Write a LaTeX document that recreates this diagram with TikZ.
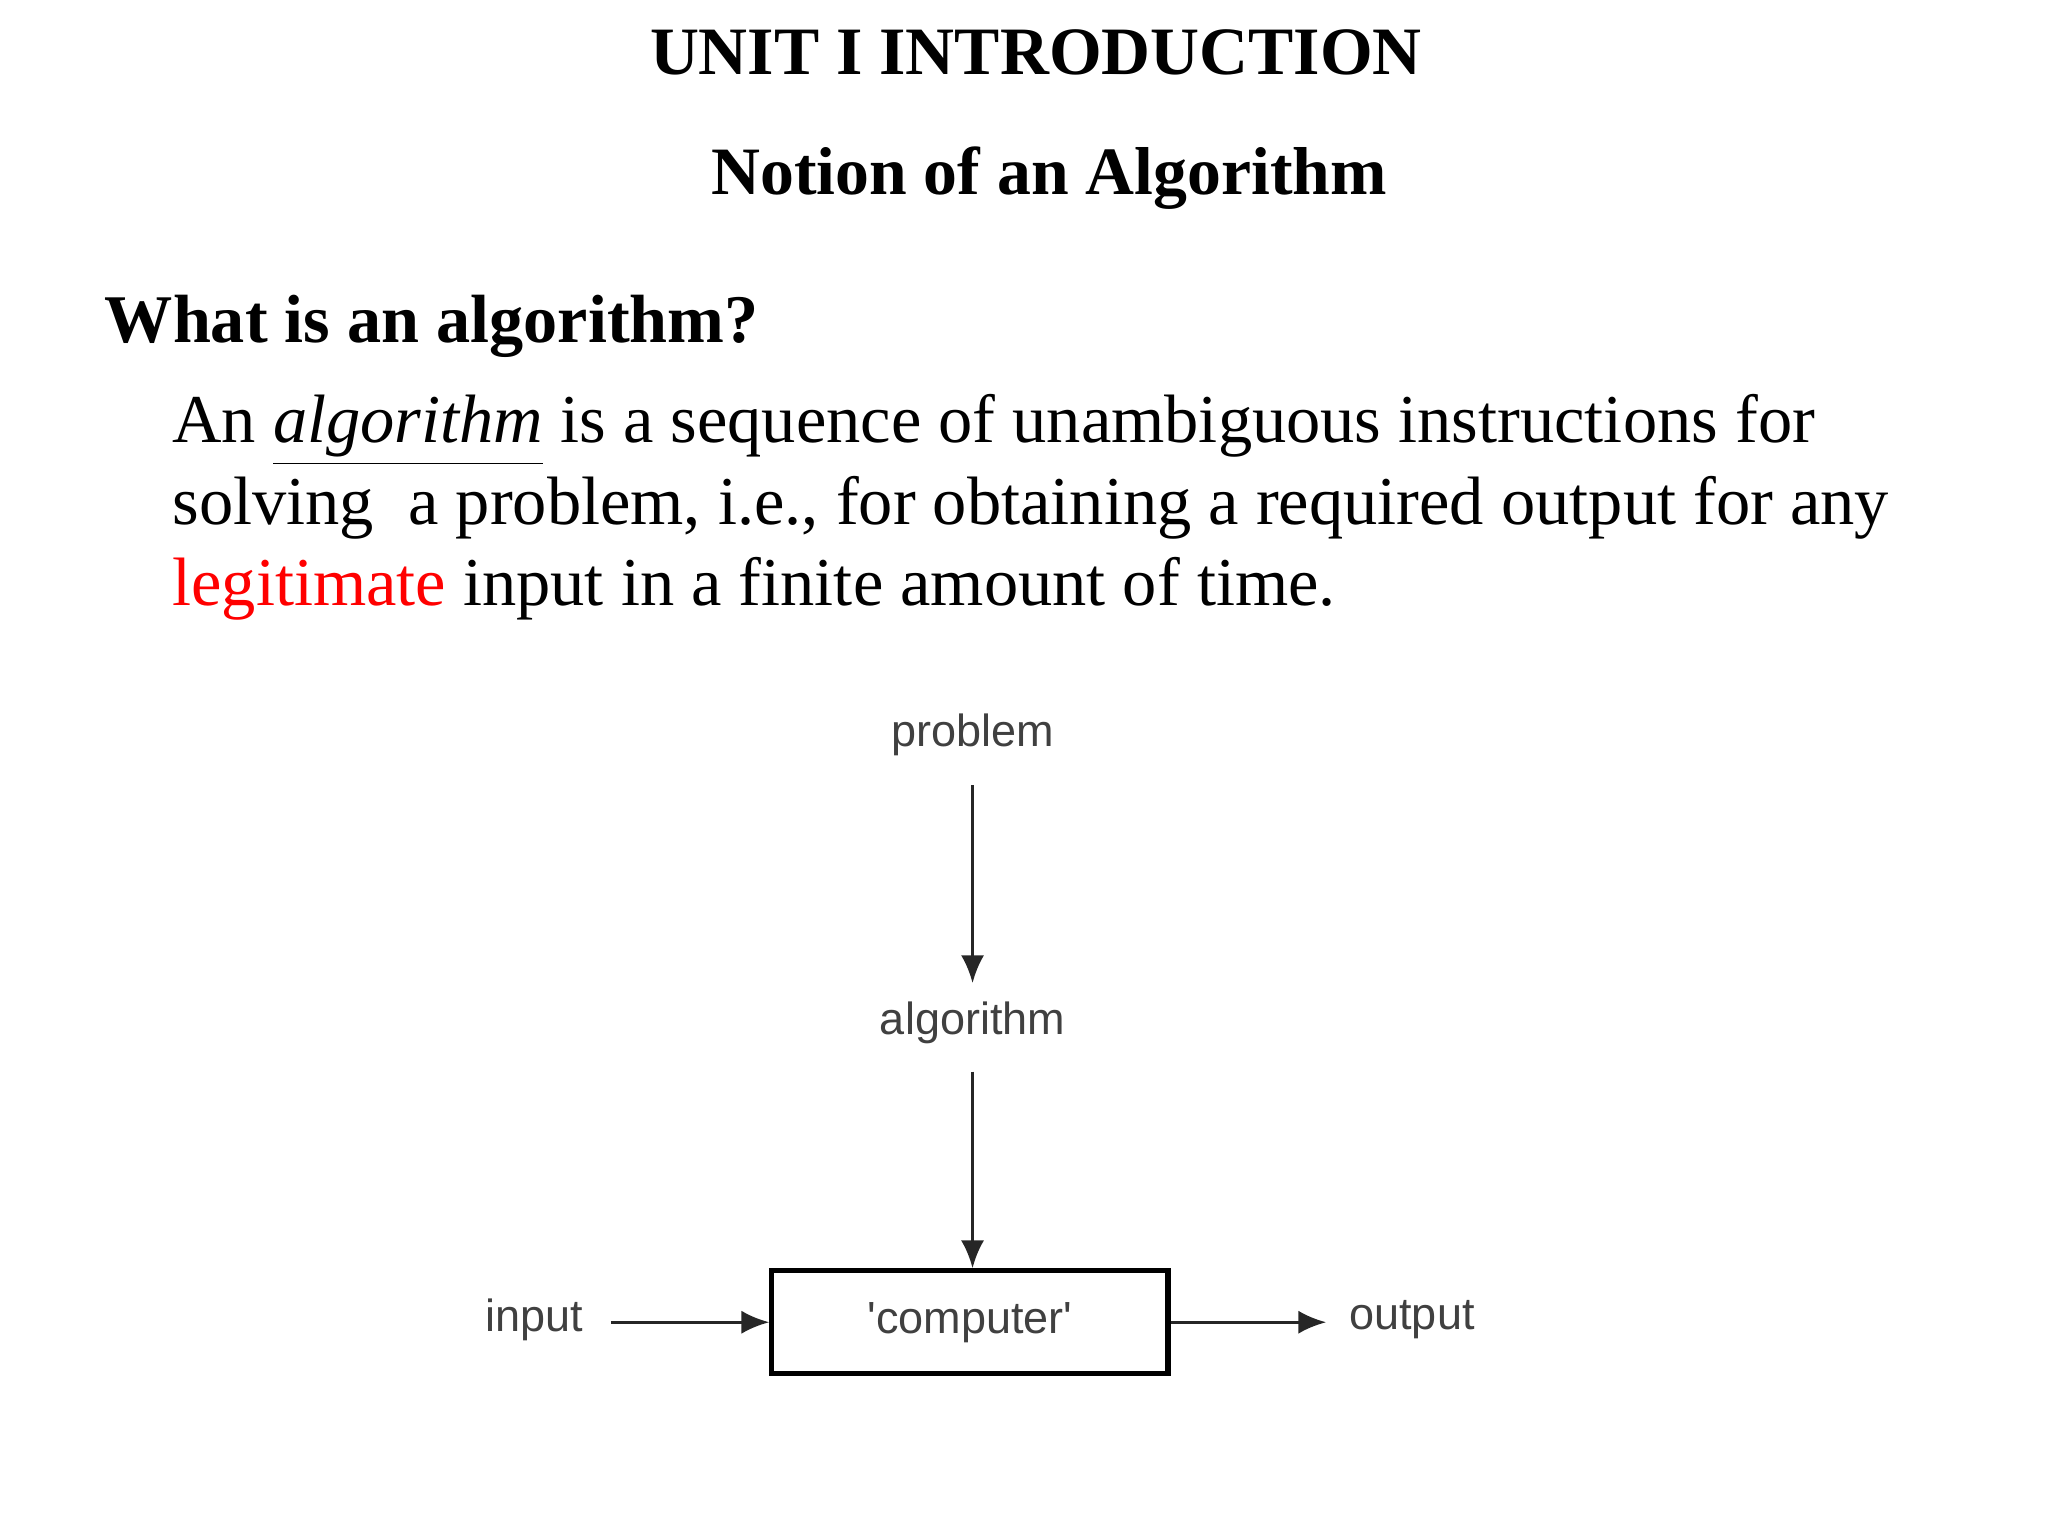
\documentclass[tikz,border=0pt]{standalone}
\usepackage{fontspec}
\setmainfont{Liberation Serif}
\newfontfamily\diagfont{Liberation Sans}
\usetikzlibrary{arrows.meta}
\begin{document}
\begin{tikzpicture}[x=0.01cm,y=-0.01cm,
  lbl/.style={font=\diagfont\fontsize{9.7}{12}\selectfont, text=black!75},
  arr/.style={-{Latex[length=6pt,width=5pt]}, line width=0.7pt, black!85}]
\useasboundingbox (0,0) rectangle (1552,1164);
\node (t1) at (785,40) {\fontsize{14.6}{18}\selectfont\bfseries UNIT I INTRODUCTION};
\node (t2) at (795,135) {\fontsize{14.6}{18}\selectfont\bfseries Notion of an Algorithm};
\node[anchor=west] (q) at (67,247) {\fontsize{14.7}{18}\selectfont\bfseries What is an algorithm?};
\node[anchor=north west, inner sep=0, align=left, font=\fontsize{14.75}{17.6}\selectfont] (p) at (130,298) {%
An \underline{\textit{algorithm}} is a sequence of unambiguous instructions for\\
solving\ \ a problem, i.e., for obtaining a required output for any\\
\textcolor{red}{legitimate} input in a finite amount of time.};
\node[lbl] (prob) at (737,557) {problem};
\node[lbl] (alg) at (737,775) {algorithm};
\node[draw, line width=1.1pt, minimum width=3cm, minimum height=0.78cm, lbl] (comp) at (735,1002) {'computer'};
\node[lbl] (in) at (405,1000) {input};
\node[lbl] (out) at (1070,1000) {output};
\draw[arr] (737,595) -- (737,745);
\draw[arr] (737,812) -- (comp.north -| 737,0);
\draw[arr] (463,1002) -- (comp.west);
\draw[arr] (comp.east) -- (1005,1002);
\end{tikzpicture}
\end{document}
